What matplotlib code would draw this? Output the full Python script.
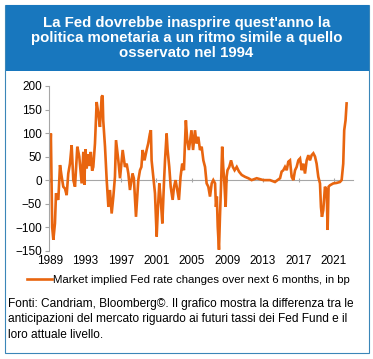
import matplotlib
matplotlib.use("Agg")
import matplotlib.pyplot as plt
from matplotlib.patches import Rectangle
from matplotlib.lines import Line2D

plt.rcParams['font.family'] = ['Liberation Sans', 'DejaVu Sans']

# values (year, bp)
years = [1989.00, 1989.10, 1989.25, 1989.38, 1989.56, 1989.68, 1989.94,
         1990.13, 1990.32, 1990.50, 1990.69, 1990.88, 1991.06, 1991.25,
         1991.44, 1991.63, 1991.82, 1992.08, 1992.30, 1992.57, 1992.76,
         1992.87, 1993.00, 1993.13, 1993.30, 1993.45, 1993.60, 1993.75,
         1993.88, 1994.07, 1994.26, 1994.45, 1994.63, 1994.82, 1994.93,
         1995.00, 1995.20, 1995.39, 1995.58, 1995.76, 1995.95, 1996.14,
         1996.32, 1996.44, 1996.70, 1996.89, 1997.19, 1997.45, 1997.64,
         1997.83, 1998.01, 1998.30, 1998.45, 1998.69, 1998.95, 1999.14,
         1999.30, 1999.44, 1999.65, 1999.89, 2000.07, 2000.26, 2000.37,
         2000.45, 2000.64, 2000.83, 2001.02, 2001.15, 2001.32, 2001.48,
         2001.66, 2001.84, 2001.96, 2002.14, 2002.25, 2002.44, 2002.60,
         2002.82, 2002.98, 2003.15, 2003.34, 2003.53, 2003.71, 2003.90,
         2004.09, 2004.31, 2004.46, 2004.65, 2004.94, 2005.12, 2005.34,
         2005.50, 2005.71, 2005.90, 2006.09, 2006.28, 2006.47, 2006.65,
         2006.84, 2007.03, 2007.22, 2007.40, 2007.60, 2007.70, 2007.80,
         2007.90, 2008.04, 2008.15, 2008.28, 2008.40, 2008.52, 2008.65,
         2008.79, 2008.90, 2009.00, 2009.20, 2009.40, 2009.60, 2009.80,
         2010.04, 2010.30, 2010.60, 2010.97, 2011.35, 2011.72, 2012.29,
         2013.04, 2013.79, 2014.35, 2014.92, 2015.10, 2015.29, 2015.48,
         2015.67, 2015.85, 2016.04, 2016.23, 2016.42, 2016.61, 2016.79,
         2016.98, 2017.17, 2017.36, 2017.54, 2017.73, 2017.92, 2018.11,
         2018.29, 2018.48, 2018.67, 2018.86, 2019.04, 2019.23, 2019.42,
         2019.53, 2019.64, 2019.79, 2019.98, 2020.17, 2020.28, 2020.39,
         2020.54, 2020.92, 2021.29, 2021.67, 2021.86, 2022.04, 2022.15,
         2022.30, 2022.42]
bp = [50, 99, -100, -127, -92, -28, -42,
      32, 7, -14, -18, -32, 14, 35,
      74, 0, -14, 71, 50, -7, 60,
      -10, 66, 25, 55, 30, 60, 20,
      28, 78, 166, 141, 113, 177, 180,
      127, 71, 0, -57, -21, -71, -35,
      7, 85, 42, 4, 64, 28, 35,
      14, -21, 14, 4, -78, 0, 21,
      28, 64, 42, 64, 78, 99, 106,
      42, 7, -28, -120, -64, -7, -42,
      -92, -7, 42, 99, 64, 28, -14,
      -42, -14, 0, -21, -42, 7, 35,
      21, 127, 85, 64, 106, 64, 106,
      78, 92, 64, 71, 42, 28, -7,
      -14, -35, -7, 0, -7, -57, -35,
      -99, -148, -78, -7, 71, 28, -7,
      -57, 7, 21, 28, 42, 28, 21,
      28, 18, 11, 7, 4, 0, 4,
      0, 0, -4, 4, 18, 21, 28,
      21, 39, 42, 7, 0, 21, 28,
      42, 46, 21, 35, 14, 42, 53,
      42, 53, 57, 50, 35, 7, -7,
      -57, -78, -64, -14, -21, -106, -14,
      -11, -7, -6, -4, 0, 35, 106,
      127, 163]

tick_years = [1989, 1993, 1997, 2001, 2005, 2009, 2013, 2017, 2021]
y_ticks = [-150, -100, -50, 0, 50, 100, 150, 200]

title = ("La Fed dovrebbe inasprire quest'anno la\n"
         "politica monetaria a un ritmo simile a quello\n"
         "osservato nel 1994")
legend_label = "Market implied Fed rate changes over next 6 months, in bp"
note = ("Fonti: Candriam, Bloomberg©. Il grafico mostra la differenza tra le\n"
        "anticipazioni del mercato riguardo ai futuri tassi dei Fed Fund e il\n"
        "loro attuale livello.")

orange = "#E8650F"
blue = "#1877BE"
grey = "#A6A6A6"

W, H = 373, 359
fig = plt.figure(figsize=(W / 100, H / 100), dpi=100)

# border and title box
fig.patches.append(Rectangle((5 / W, 1 - 353 / H), 364 / W, 348 / H, transform=fig.transFigure,
                             fill=False, edgecolor="#3A86B8", linewidth=0.8))
fig.patches.append(Rectangle((6 / W, 1 - 71 / H), 363 / W, 66 / H, transform=fig.transFigure,
                             facecolor=blue, edgecolor="none"))
fig.text(0.5, 1 - 38 / H, title, ha="center", va="center", color="white",
         fontsize=10.8, fontweight="bold", linespacing=1.08)

ax = fig.add_axes([49 / W, 1 - 250.7 / H, 304 / W, 164.7 / H])
ax.plot(years, bp, color=orange, linewidth=1.9, solid_joinstyle="miter")
ax.set_xlim(1988.89, 2023.14)
ax.set_ylim(-150, 200)
ax.set_yticks(y_ticks)

for s in ["top", "right"]:
    ax.spines[s].set_visible(False)
ax.spines["left"].set_color(grey)
ax.spines["bottom"].set_color(grey)
ax.spines["bottom"].set_position(("data", 0))
ax.spines["bottom"].set_zorder(0)
ax.set_xticks(tick_years)
ax.tick_params(axis="x", labelbottom=False, length=3, color=grey, direction="inout")
ax.tick_params(axis="y", length=3, color=grey, labelsize=8.5, pad=2)

sec = ax.secondary_xaxis("bottom")
sec.set_xticks(tick_years)
sec.tick_params(length=0, labelsize=8.5, pad=3)
sec.spines["bottom"].set_visible(False)

handle = Line2D([], [], color=orange, linewidth=1.9)
fig.legend([handle], [legend_label], loc="center", bbox_to_anchor=(0.505, 1 - 280 / H),
           frameon=False, fontsize=8.2, handlelength=2.2, handletextpad=0.1)

fig.text(8 / W, 1 - 298 / H, note, ha="left", va="top", fontsize=8.55, linespacing=1.38)

fig.savefig("out.png", dpi=100)
